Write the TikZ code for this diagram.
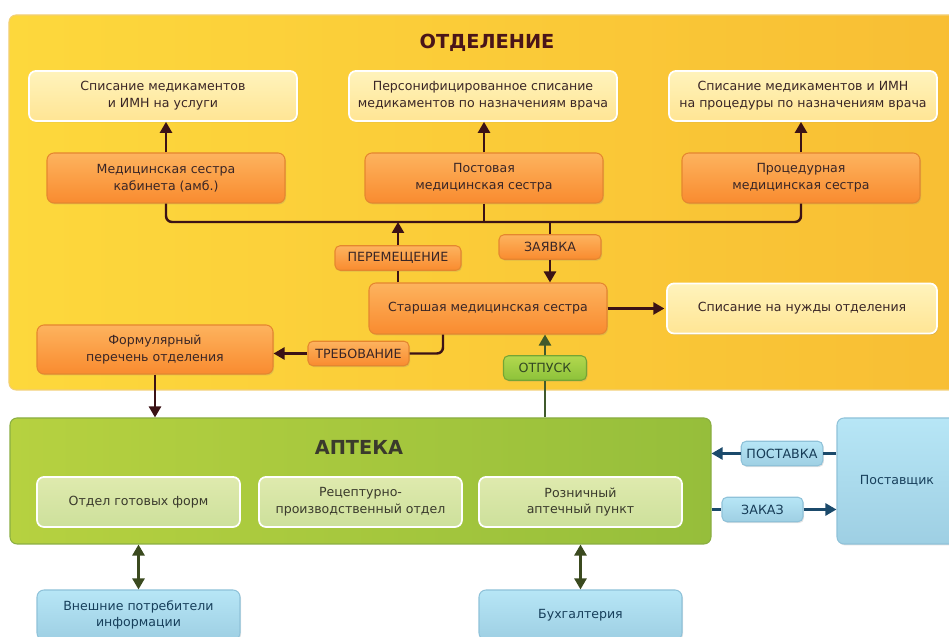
\documentclass[tikz,border=0pt]{standalone}
\usepackage{fontspec}
\setmainfont{DejaVu Sans}
\usepackage{tikz}
\usetikzlibrary{arrows.meta,positioning,calc,shadows}
\definecolor{ink}{HTML}{3B1216}
\definecolor{ttl}{HTML}{4A1519}
\definecolor{txt}{HTML}{3A2626}
\definecolor{yelL}{HTML}{FDD83C}
\definecolor{yelR}{HTML}{F8BE34}
\definecolor{yelE}{HTML}{F2CF78}
\definecolor{creamT}{HTML}{FFF3BC}
\definecolor{creamB}{HTML}{FFE594}
\definecolor{orT}{HTML}{FDB35E}
\definecolor{orB}{HTML}{F98B2F}
\definecolor{orE}{HTML}{E5862F}
\definecolor{grnL}{HTML}{B6D140}
\definecolor{grnR}{HTML}{96BE3B}
\definecolor{grnE}{HTML}{8AAE42}
\definecolor{grnT}{HTML}{DFEAAE}
\definecolor{grnB}{HTML}{CDE09B}
\definecolor{sapT}{HTML}{B2D84E}
\definecolor{sapB}{HTML}{8DC23A}
\definecolor{sapE}{HTML}{74A535}
\definecolor{bluT}{HTML}{B7E6F6}
\definecolor{bluB}{HTML}{9ECFE3}
\definecolor{bluE}{HTML}{8FC2D9}
\definecolor{navy}{HTML}{1B4A6B}
\definecolor{moss}{HTML}{3B4A1F}
\definecolor{fern}{HTML}{405A2C}
\definecolor{aptT}{HTML}{3A3A2C}

\begin{document}
\begin{tikzpicture}[
  every node/.style={font=\fontsize{7.15}{9.6}\selectfont,text=txt,align=center},
  pnl/.style={rectangle,rounded corners=0.14cm,line width=0.6pt},
  shd/.style={drop shadow={opacity=0.22,shadow xshift=0.6pt,shadow yshift=-0.8pt}},
  wbox/.style={pnl,shd,draw=white,line width=1pt,top color=creamT,bottom color=creamB,minimum width=5.36cm,minimum height=1cm,inner sep=2pt},
  nbox/.style={pnl,shd,draw=orE,top color=orT,bottom color=orB,minimum width=4.76cm,minimum height=1cm,inner sep=2pt},
  tag/.style={pnl,shd,draw=orE,top color=orT,bottom color=orB,rounded corners=0.1cm,minimum height=0.49cm,inner xsep=3pt,inner ysep=1pt,font=\fontsize{7.2}{8}\selectfont},
  gtag/.style={tag,draw=sapE,top color=sapT,bottom color=sapB,text=fern!80!black},
  btag/.style={tag,draw=bluE,top color=bluT,bottom color=bluB,text=navy!80!black},
  gbox/.style={pnl,draw=white,line width=1pt,top color=grnT,bottom color=grnB,minimum width=4.06cm,minimum height=1cm,inner sep=2pt,text=aptT},
  bbox/.style={pnl,shd,draw=bluE,top color=bluT,bottom color=bluB,minimum width=4.06cm,minimum height=1cm,inner sep=2pt,text=navy!85!black},
  hdr/.style={font=\bfseries\fontsize{11}{13}\selectfont},
  ln/.style={draw=ink,line width=1.4pt},
  arr/.style={ln,-{Triangle[length=2.2mm,width=2.4mm]}},
  gln/.style={draw=fern,line width=1.4pt},
  garr/.style={gln,-{Triangle[length=2.2mm,width=2.4mm]}},
  bln/.style={draw=navy,line width=1.4pt},
  barr/.style={bln,-{Triangle[length=2.2mm,width=2.4mm]}},
  darr/.style={draw=moss,line width=1.4pt,{Triangle[length=2.2mm,width=2.4mm]}-{Triangle[length=2.2mm,width=2.4mm]}}]
\clip (0,0) rectangle (18.98,12.74);

% department
\node[pnl,left color=yelL,right color=yelR,draw=yelE,minimum width=19.1cm,minimum height=7.5cm] (otd) at (9.73,8.69) {};
\node[hdr,text=ttl] (otdT) at (9.74,11.88) {ОТДЕЛЕНИЕ};
\node[wbox] (spA) at (3.26,10.82) {Списание медикаментов\\и ИМН на услуги};
\node[wbox] (spB) at (9.66,10.82) {Персонифицированное списание\\медикаментов по назначениям врача};
\node[wbox] (spC) at (16.06,10.82) {Списание медикаментов и ИМН\\на процедуры по назначениям врача};
\node[nbox] (msA) at (3.32,9.18) {Медицинская сестра\\кабинета (амб.)};
\node[nbox] (msB) at (9.68,9.18) {Постовая\\медицинская сестра};
\node[nbox] (msC) at (16.02,9.18) {Процедурная\\медицинская сестра};
\foreach \m/\s in {msA/spA,msB/spB,msC/spC}
  \draw[arr] (\m.north) -- (\m.north |- \s.south);

\coordinate (bus) at (0,8.30);
\draw[ln,rounded corners=0.12cm] (msA.south) -- (msA.south |- bus) -- (msC.south |- bus) -- (msC.south);
\draw[ln] (msB.south) -- (msB.south |- bus);

\node[nbox,minimum height=1.02cm] (st) at (9.76,6.57) {Старшая медицинская сестра};
\node[tag,minimum width=2.52cm] (mov) at (7.96,7.58) {ПЕРЕМЕЩЕНИЕ};
\node[tag,minimum width=2.04cm] (req) at (11.00,7.80) {ЗАЯВКА};
\draw[ln] (st.north -| mov) -- (mov.south);
\draw[arr] (mov.north) -- (mov |- bus);
\draw[ln] (req |- bus) -- (req.north);
\draw[arr] (req.south) -- (req |- st.north);

\node[wbox,minimum width=5.4cm] (spD) at (16.04,6.57) {Списание на нужды отделения};
\draw[arr] (st.east) -- ([xshift=-1pt]st.east -| spD.west);

\node[nbox,minimum width=4.72cm,minimum height=0.98cm] (frm) at (3.10,5.75) {Формулярный\\перечень отделения};
\node[tag,minimum width=2.02cm] (trb) at (7.17,5.67) {ТРЕБОВАНИЕ};
\coordinate (trbK) at (8.86,5.67);
\draw[ln,rounded corners=0.12cm] (st.south -| trbK) -- (trbK) -- (trb.east);
\draw[arr] (trb.west) -- (frm.east |- trb);

% pharmacy
\node[pnl,left color=grnL,right color=grnR,draw=grnE,minimum width=14.02cm,minimum height=2.52cm] (apt) at (7.21,3.12) {};
\node[hdr,text=aptT] (aptH) at (7.18,3.80) {АПТЕКА};
\node[gbox] (gA) at (2.77,2.70) {Отдел готовых форм};
\node[gbox] (gB) at (7.21,2.70) {Рецептурно-\\производственный отдел};
\node[gbox] (gC) at (11.61,2.70) {Розничный\\аптечный пункт};

\draw[arr] (frm.south) -- (frm.south |- apt.north);
\node[gtag,minimum width=1.66cm] (otp) at (10.90,5.38) {ОТПУСК};
\draw[gln] (apt.north -| otp) -- (otp.south);
\draw[garr] (otp.north) -- (otp |- st.south);

% supplier
\node[bbox,minimum width=2.4cm,minimum height=2.52cm] (sup) at (17.94,3.12) {Поставщик};
\node[btag,minimum width=1.6cm] (pst) at (15.64,3.67) {ПОСТАВКА};
\node[btag,minimum width=1.62cm] (zak) at (15.25,2.55) {ЗАКАЗ};
\draw[bln] (sup.west |- pst) -- (pst.east);
\draw[barr] (pst.west) -- (apt.east |- pst);
\draw[bln] (apt.east |- zak) -- (zak.west);
\draw[barr] (zak.east) -- (sup.west |- zak);

% outside
\node[bbox] (ext) at (2.77,0.44) {Внешние потребители\\информации};
\node[bbox] (acc) at (11.61,0.44) {Бухгалтерия};
\draw[darr] (apt.south -| ext) -- (ext.north);
\draw[darr] (apt.south -| acc) -- (acc.north);
\end{tikzpicture}
\end{document}
